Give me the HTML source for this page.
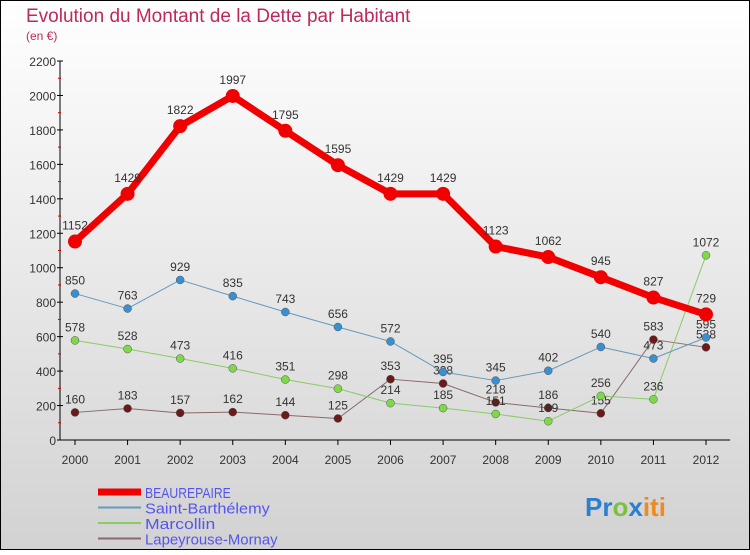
<!DOCTYPE html>
<html><head><meta charset="utf-8"><style>
html,body{margin:0;padding:0}
body{width:750px;height:550px;overflow:hidden;font-family:"Liberation Sans",sans-serif}
</style></head><body>
<svg id="chart" width="750" height="550" xmlns="http://www.w3.org/2000/svg">
<defs><linearGradient id="bg" x1="0" y1="0" x2="0" y2="1"><stop offset="0" stop-color="#ffffff"/><stop offset="1" stop-color="#d2d2d2"/></linearGradient></defs>
<rect x="0.5" y="0.5" width="749" height="549" fill="url(#bg)" stroke="#000"/>
<text x="26" y="22" font-size="19" fill="#c0285a">Evolution du Montant de la Dette par Habitant</text>
<text x="26" y="40" font-size="12" fill="#c0285a">(en €)</text>
<g id="axes"></g><g id="series"></g><g id="legend"></g>
<text x="585" y="516" font-size="26" font-weight="bold"><tspan fill="#2a7fd0">Pr</tspan><tspan fill="#7ac143">o</tspan><tspan fill="#2a7fd0">x</tspan><tspan fill="#f08a1c">iti</tspan></text>
</svg>
<script>
const years=[2000,2001,2002,2003,2004,2005,2006,2007,2008,2009,2010,2011,2012];
const yTicks=[0,200,400,600,800,1000,1200,1400,1600,1800,2000,2200];
const beaurepaire=[1152,1429,1822,1997,1795,1595,1429,1429,1123,1062,945,827,729];
const saintBarthelemy=[850,763,929,835,743,656,572,395,345,402,540,473,595];
const marcollin=[578,528,473,416,351,298,214,185,151,109,256,236,1072];
const lapeyrouse=[160,183,157,162,144,125,353,328,218,186,155,583,538];
const NS="http://www.w3.org/2000/svg";
const X0=75,X1=706,Y0=440,Y1=61;
const xs=i=>X0+(X1-X0)*i/(years.length-1);
const ys=v=>Y0-(Y0-Y1)*v/2200;
function mk(tag,attrs,parent){const e=document.createElementNS(NS,tag);for(const k in attrs)e.setAttribute(k,attrs[k]);parent.appendChild(e);return e;}
const axes=document.getElementById('axes');
let a=mk('line',{x1:60,y1:Y1,x2:60,y2:Y0,stroke:'#000'},axes);


a=mk('line',{x1:60,y1:Y0,x2:730,y2:Y0,stroke:'#000'},axes);


yTicks.forEach(t=>{
  mk('line',{x1:57,y1:ys(t),x2:63,y2:ys(t),stroke:'#000'},axes);
  if(t<2200)mk('line',{x1:58,y1:ys(t+100),x2:61,y2:ys(t+100),stroke:'#d00'},axes);
  const tx=mk('text',{x:56,y:ys(t)+5,'font-size':12,'text-anchor':'end',fill:'#333'},axes);
  tx.textContent=t;
  
  
});
years.forEach((y,i)=>{
  mk('line',{x1:xs(i),y1:Y0,x2:xs(i),y2:Y0+5,stroke:'#000'},axes);
  const tx=mk('text',{x:xs(i),y:Y0+24,'font-size':12,'text-anchor':'middle',fill:'#333'},axes);
  tx.textContent=y;
  
  
});
const series=[
 {name:'lapeyrouse-mornay',data:lapeyrouse,color:'#6b1a1a',w:1,r:4,lc:'#8a6a6a'},
 {name:'marcollin',data:marcollin,color:'#7fd84a',w:1,r:4,lc:'#88cc66'},
 {name:'saint-barthelemy',data:saintBarthelemy,color:'#3a8fd0',w:1,r:4,lc:'#6699bb'},
 {name:'beaurepaire',data:beaurepaire,color:'#f00000',w:7,r:7,lc:'#f00000'}
];
const sg=document.getElementById('series');
series.forEach(s=>{
  const g=mk('g',{},sg);
  
  
  const p=mk('polyline',{points:s.data.map((v,i)=>xs(i)+','+ys(v)).join(' '),fill:'none',stroke:s.w>1?s.color:s.lc,'stroke-width':s.w,'stroke-linejoin':'round'},g);
  
  
  s.data.forEach((v,i)=>{
    const c=mk('circle',{cx:xs(i),cy:ys(v),r:s.r,fill:s.color,stroke:s.w>1?'none':'#555','stroke-width':0.5},g);
    
    
    const t=mk('text',{x:xs(i),y:ys(v)-(s.w>1?12:9),'font-size':12,'text-anchor':'middle',fill:'#333'},g);
    t.textContent=v;
    
    
  });
});
const lg=document.getElementById('legend');
const names=['BEAUREPAIRE','Saint-Barthélemy','Marcollin','Lapeyrouse-Mornay'];
const lcols=['#f00000','#6699bb','#88cc66','#8a6a6a'];
names.forEach((n,i)=>{
  const y=492+i*15.5;
  const l=mk('line',{x1:98,y1:y,x2:141,y2:y,stroke:lcols[i],'stroke-width':i==0?7:2},lg);
  
  
  const t=mk('text',{x:145,y:y+6,'font-size':15,fill:'#5555ee','textLength':n.length*7.8,'lengthAdjust':'spacingAndGlyphs'},lg);
  t.textContent=n;
  
  
});
</script>
</body></html>
